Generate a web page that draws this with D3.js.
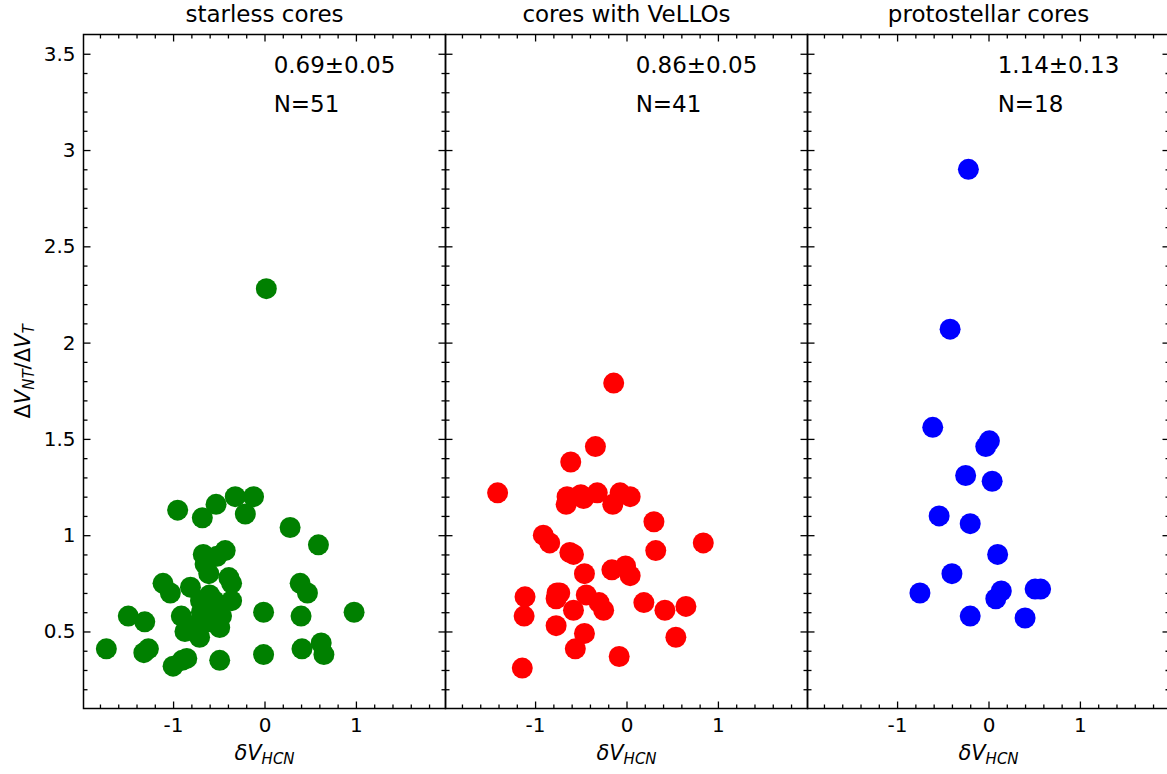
<!DOCTYPE html>
<html>
<head>
<meta charset="utf-8">
<script src="https://cdn.jsdelivr.net/npm/d3@7"></script>
<style>
  html, body { margin: 0; padding: 0; background: #fff; }
  svg { display: block; }
  text { font-family: "DejaVu Sans", sans-serif; fill: #000; }
</style>
</head>
<body>
<svg id="chart" width="1167" height="774"></svg>
<script>
// Panel titles, annotations and colours
const panelTitles = ["starless cores", "cores with VeLLOs", "protostellar cores"];
const statLabels = ["0.69\u00b10.05", "0.86\u00b10.05", "1.14\u00b10.13"];
const countLabels = ["N=51", "N=41", "N=18"];
const panelColors = ["#008000", "#ff0000", "#0000ff"];

// Tick values and labels
const xTickValues = [-1, 0, 1];
const xTickLabels = ["-1", "0", "1"];
const yTickValues = [0.5, 1, 1.5, 2, 2.5, 3, 3.5];
const yTickLabels = ["0.5", "1", "1.5", "2", "2.5", "3", "3.5"];

// Starless cores: delta V_HCN and dV_NT/dV_T
const starlessX = [-1.73, -1.49, -1.31, -1.32, -1.27, -1.00, -0.90, -0.85, -0.49, -0.01,
  -0.01, 0.40, 0.41, 0.62, 0.65, 0.98, 0.39, 0.47, 0.59, 0.28,
  -1.11, -1.03, -0.81, -0.91, -0.87, -0.71, -0.49, -0.36, -0.67, -0.43,
  -0.52, -0.65, -0.61, -0.39, -0.36, -0.60, -0.70, -0.56, -0.69, -0.78,
  -0.63, -0.95, -0.68, -0.53, -0.32, -0.12, -0.21, 0.02, -0.62, -0.55, -0.47];
const starlessY = [0.41, 0.58, 0.55, 0.39, 0.41, 0.32, 0.35, 0.36, 0.35, 0.38,
  0.60, 0.58, 0.41, 0.44, 0.38, 0.60, 0.75, 0.70, 0.95, 1.04,
  0.75, 0.70, 0.73, 0.58, 0.50, 0.47, 0.52, 0.66, 0.90, 0.92,
  0.89, 0.85, 0.80, 0.78, 0.75, 0.69, 0.66, 0.61, 0.60, 0.53,
  0.65, 1.13, 1.09, 1.16, 1.20, 1.20, 1.11, 2.28, 0.55, 0.66, 0.58];

// Cores with VeLLOs
const vellosX = [-0.14, -0.34, -0.61, -1.41, -0.65, -0.66, -0.50, -0.32, -0.07, -0.15,
  0.04, 0.30, -0.91, -0.84, 0.84, 0.32, -0.62, -0.58, -0.46, -0.16,
  -0.01, 0.04, -1.11, -1.12, -0.76, -0.77, -0.44, -0.58, -0.30, -0.25,
  0.19, 0.42, 0.65, -0.77, -0.46, -0.56, -0.08, 0.54, -1.14, -0.47, -0.73];
const vellosY = [1.79, 1.46, 1.38, 1.22, 1.20, 1.16, 1.21, 1.22, 1.22, 1.16,
  1.20, 1.07, 1.00, 0.96, 0.96, 0.92, 0.91, 0.90, 0.80, 0.82,
  0.84, 0.79, 0.68, 0.58, 0.70, 0.67, 0.69, 0.61, 0.65, 0.61,
  0.65, 0.61, 0.63, 0.53, 0.49, 0.41, 0.37, 0.47, 0.31, 1.19, 0.70];

// Protostellar cores
const protoX = [-0.22, -0.42, -0.61, 0.01, -0.03, -0.25, 0.04, -0.54, -0.20, 0.10,
  -0.40, -0.75, 0.14, 0.08, 0.51, 0.57, -0.20, 0.40];
const protoY = [2.90, 2.07, 1.56, 1.49, 1.46, 1.31, 1.28, 1.10, 1.06, 0.90,
  0.80, 0.70, 0.71, 0.67, 0.72, 0.72, 0.58, 0.57];

const seriesX = [starlessX, vellosX, protoX];
const seriesY = [starlessY, vellosY, protoY];

// Layout
const panelLeft = [83.5, 445.5, 807.5];
const panelW = 362;
const plotTop = 34.5, plotBottom = 708.5;
const markerR = 10.5;

const svg = d3.select("#chart");

const y = d3.scaleLinear().domain([0.1, 3.6]).range([plotBottom, plotTop]);
const yMinor = d3.range(2, 36).map(v => v / 10).filter(v => Math.abs(v * 2 - Math.round(v * 2)) > 1e-6);
const xMinor = d3.range(-18, 20, 2).map(v => v / 10).filter(v => Math.abs(v - Math.round(v)) > 1e-6);

function styleAxis(g) {
  g.select(".domain").remove();
  g.selectAll(".tick line").attr("stroke", "#000").attr("stroke-width", 1.3);
}

panelTitles.forEach((title, i) => {
  const x0 = panelLeft[i];
  const x = d3.scaleLinear().domain([-1.98, 1.98]).range([x0, x0 + panelW]);
  const g = svg.append("g");

  // points
  const pts = seriesX[i].map((v, k) => ({ x: v, y: seriesY[i][k] }));
  g.append("g").selectAll("circle").data(pts).join("circle")
    .attr("cx", d => x(d.x))
    .attr("cy", d => y(d.y))
    .attr("r", markerR)
    .attr("fill", panelColors[i]);

  // bottom axis: major with labels, minor without
  g.append("g").attr("transform", `translate(0,${plotBottom})`)
    .call(d3.axisBottom(x).tickValues(xTickValues)
      .tickFormat((d, k) => xTickLabels[k]).tickSizeInner(-7).tickSizeOuter(0).tickPadding(9))
    .call(styleAxis)
    .call(a => a.selectAll("text").attr("font-size", 20).attr("font-family", "DejaVu Sans"));
  g.append("g").attr("transform", `translate(0,${plotBottom})`)
    .call(d3.axisBottom(x).tickValues(xMinor).tickFormat("").tickSizeInner(-4).tickSizeOuter(0))
    .call(styleAxis);

  // top axis ticks
  g.append("g").attr("transform", `translate(0,${plotTop})`)
    .call(d3.axisTop(x).tickValues(xTickValues).tickFormat("").tickSizeInner(-7).tickSizeOuter(0))
    .call(styleAxis);
  g.append("g").attr("transform", `translate(0,${plotTop})`)
    .call(d3.axisTop(x).tickValues(xMinor).tickFormat("").tickSizeInner(-4).tickSizeOuter(0))
    .call(styleAxis);

  // left axis (labels on first panel only)
  g.append("g").attr("transform", `translate(${x0},0)`)
    .call(d3.axisLeft(y).tickValues(yTickValues)
      .tickFormat((d, k) => i === 0 ? yTickLabels[k] : "").tickSizeInner(-7).tickSizeOuter(0).tickPadding(8))
    .call(styleAxis)
    .call(a => a.selectAll("text").attr("font-size", 20).attr("font-family", "DejaVu Sans"));
  g.append("g").attr("transform", `translate(${x0},0)`)
    .call(d3.axisLeft(y).tickValues(yMinor).tickFormat("").tickSizeInner(-4).tickSizeOuter(0))
    .call(styleAxis);

  // right axis ticks
  g.append("g").attr("transform", `translate(${x0 + panelW},0)`)
    .call(d3.axisRight(y).tickValues(yTickValues).tickFormat("").tickSizeInner(-7).tickSizeOuter(0))
    .call(styleAxis);
  g.append("g").attr("transform", `translate(${x0 + panelW},0)`)
    .call(d3.axisRight(y).tickValues(yMinor).tickFormat("").tickSizeInner(-4).tickSizeOuter(0))
    .call(styleAxis);

  // frame
  g.append("rect")
    .attr("x", x0).attr("y", plotTop)
    .attr("width", panelW).attr("height", plotBottom - plotTop)
    .attr("fill", "none").attr("stroke", "#000").attr("stroke-width", 1.5);

  // title
  g.append("text")
    .attr("x", x0 + panelW / 2).attr("y", 21.7)
    .attr("text-anchor", "middle").attr("font-size", 23)
    .text(title);

  // annotations
  g.append("text")
    .attr("x", x(0.1)).attr("y", y(3.4))
    .attr("font-size", 23).text(statLabels[i]);
  g.append("text")
    .attr("x", x(0.1)).attr("y", y(3.2))
    .attr("font-size", 23).text(countLabels[i]);

  // x label: δV_HCN
  const xl = g.append("text")
    .attr("x", x0 + panelW / 2).attr("y", 760)
    .attr("text-anchor", "middle").attr("font-size", 21);
  xl.append("tspan").attr("font-style", "italic").text("\u03b4V");
  xl.append("tspan").attr("font-style", "italic").attr("font-size", 15).attr("dy", 4).text("HCN");
});

// y label: ΔV_NT/ΔV_T
const yl = svg.append("text")
  .attr("transform", `translate(30,${(plotTop + plotBottom) / 2}) rotate(-90)`)
  .attr("text-anchor", "middle").attr("font-size", 21);
yl.append("tspan").text("\u0394");
yl.append("tspan").attr("font-style", "italic").text("V");
yl.append("tspan").attr("font-style", "italic").attr("font-size", 15).attr("dy", 4).text("NT");
yl.append("tspan").attr("dy", -4).text("/\u0394");
yl.append("tspan").attr("font-style", "italic").text("V");
yl.append("tspan").attr("font-style", "italic").attr("font-size", 15).attr("dy", 4).text("T");
</script>
</body>
</html>
